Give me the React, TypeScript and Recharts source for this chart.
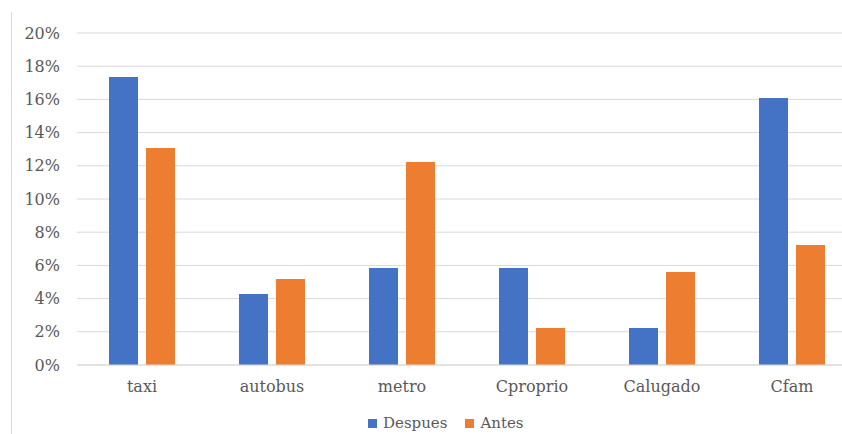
import React from "react";
import { BarChart, Bar, XAxis, YAxis, CartesianGrid } from "recharts";

const categories = ["taxi", "autobus", "metro", "Cproprio", "Calugado", "Cfam"];
const despues = [17.35, 4.28, 5.84, 5.84, 2.23, 16.08];
const antes = [13.07, 5.18, 12.23, 2.23, 5.6, 7.23];
const yTicks = [0, 2, 4, 6, 8, 10, 12, 14, 16, 18, 20];
const seriesNames = ["Despues", "Antes"];
const seriesColors = ["#4472C4", "#ED7D31"];

const data = categories.map((c, i) => ({ name: c, Despues: despues[i], Antes: antes[i] }));

const FONT = "'DejaVu Serif', serif";
const TEXT = "#595959";

export default function App() {
  return (
    <div style={{ position: "absolute", left: 0, top: 0, width: 842, height: 434, overflow: "hidden", background: "#fff" }}>
      <div style={{ position: "absolute", left: 11, top: 12, width: 1, height: 422, background: "#d9d9d9" }} />
      <BarChart
        width={860}
        height={434}
        data={data}
        margin={{ top: 33, right: 3, left: 0, bottom: 0 }}
        barSize={29}
        barGap={8}
      >
        <CartesianGrid vertical={false} stroke="#d9d9d9" />
        <XAxis
          dataKey="name"
          height={69}
          tickLine={false}
          tickSize={0}
          tickMargin={16}
          axisLine={{ stroke: "#d9d9d9" }}
          tick={{ fill: TEXT, fontFamily: FONT, fontSize: 16 }}
        />
        <YAxis
          width={77}
          domain={[0, 20]}
          ticks={yTicks}
          tickFormatter={(v) => `${v}%`}
          axisLine={false}
          tickLine={false}
          tickSize={0}
          tickMargin={17}
          tick={{ fill: TEXT, fontFamily: FONT, fontSize: 16 }}
        />
        <Bar dataKey="Despues" fill={seriesColors[0]} isAnimationActive={false} />
        <Bar dataKey="Antes" fill={seriesColors[1]} isAnimationActive={false} />
      </BarChart>
      <div
        style={{
          position: "absolute",
          left: 368,
          top: 414,
          display: "flex",
          alignItems: "center",
          fontFamily: FONT,
          fontSize: 15,
          lineHeight: "18px",
          color: TEXT,
          whiteSpace: "nowrap",
        }}
      >
        {seriesNames.map((n, i) => (
          <React.Fragment key={n}>
            <span style={{ display: "inline-block", width: 9, height: 9, background: seriesColors[i], marginRight: 6 }} />
            <span style={{ marginRight: i === 0 ? 18 : 0 }}>{n}</span>
          </React.Fragment>
        ))}
      </div>
    </div>
  );
}
